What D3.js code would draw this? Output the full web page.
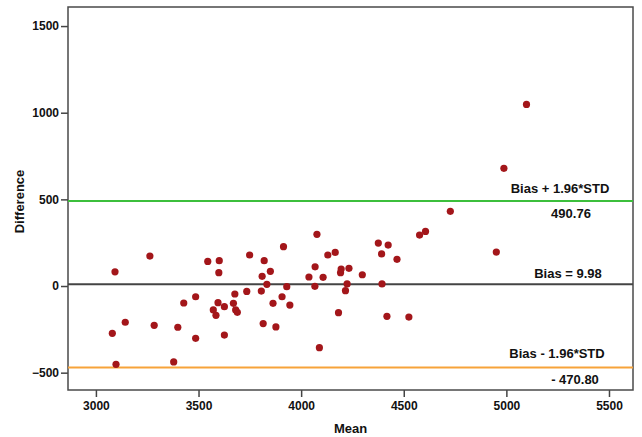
<!DOCTYPE html>
<html>
<head>
<meta charset="utf-8">
<script src="https://cdn.jsdelivr.net/npm/d3@7"></script>
<style>
  body { margin: 0; background: #fff; }
  text { font-family: "Liberation Sans", Arial, sans-serif; font-weight: bold; }
</style>
</head>
<body>
<div id="container"></div>
<script>
/* DATA */
const meanValues = [3093, 3263, 3545, 3601, 3599, 3749, 3428, 3486, 3677, 3735,
  3595, 3572, 3626, 3670, 3585, 3681, 3689, 3143, 3080, 3284,
  3399, 3486, 3626, 3098, 3379, 3820, 3914, 4077, 3850, 3810,
  3833, 3806, 3930, 3863, 3907, 3945, 3815, 3877, 4089, 4068,
  4038, 4107, 4067, 4130, 4166, 4195, 4192, 4233, 4298, 4224,
  4216, 4182, 4727, 4577, 4606, 4376, 4424, 4392, 4467, 4951,
  4394, 4418, 4525, 4988, 5098];
const diffValues = [82, 173, 142, 146, 77, 179, -98, -62, -46, -31,
  -96, -138, -119, -100, -169, -138, -152, -209, -273, -227,
  -238, -302, -283, -452, -438, 146, 227, 298, 85, 56,
  10, -29, -4, -100, -62, -110, -217, -236, -356, 111,
  52, 50, -2, 179, 194, 98, 77, 102, 65, 12,
  -27, -154, 431, 294, 315, 248, 236, 185, 154, 196,
  12, -175, -179, 679, 1048];
const xTicks = [3000, 3500, 4000, 4500, 5000, 5500];
const yTicks = [-500, 0, 500, 1000, 1500];
const bias = 9.98;
const upperLimit = 490.76;
const lowerLimit = -470.80;

/* LAYOUT */
const width = 642, height = 437,
  margin = { top: 7, right: 9, bottom: 47, left: 68 };

const svg = d3.select("#container").append("svg")
  .attr("width", width)
  .attr("height", height);

const xScale = d3.scaleLinear()
  .domain([2864, 5617])
  .range([margin.left, width - margin.right]);

const yScale = d3.scaleLinear()
  .domain([-600, 1610])
  .range([height - margin.bottom, margin.top]);

// axes
const xAxis = d3.axisBottom(xScale).tickValues(xTicks).tickSize(7).tickPadding(4).tickFormat(d3.format("d"));
const yAxis = d3.axisLeft(yScale).tickValues(yTicks).tickSize(7).tickPadding(2).tickFormat(d3.format("d"));

const xAxisGroup = svg.append("g")
  .attr("transform", `translate(0, ${height - margin.bottom})`)
  .call(xAxis);
const yAxisGroup = svg.append("g")
  .attr("transform", `translate(${margin.left}, 0)`)
  .call(yAxis);

[xAxisGroup, yAxisGroup].forEach(g => {
  g.select(".domain").remove();
  g.selectAll(".tick line").attr("stroke", "#444").attr("stroke-width", 1.5);
  g.selectAll(".tick text").attr("fill", "#111").style("font-size", "12px");
});

// frame
svg.append("rect")
  .attr("x", margin.left)
  .attr("y", margin.top)
  .attr("width", width - margin.left - margin.right)
  .attr("height", height - margin.top - margin.bottom)
  .attr("fill", "none")
  .attr("stroke", "#4a4a4a")
  .attr("stroke-width", 1.5);

// reference lines
const refLines = [
  { v: upperLimit, color: "#3cbf3c" },
  { v: bias, color: "#444" },
  { v: lowerLimit, color: "#f7a33a" }
];
svg.selectAll("line.ref")
  .data(refLines)
  .join("line")
  .attr("class", "ref")
  .attr("x1", margin.left)
  .attr("x2", width - margin.right)
  .attr("y1", d => yScale(d.v))
  .attr("y2", d => yScale(d.v))
  .attr("stroke", d => d.color)
  .attr("stroke-width", 2);

// points
svg.selectAll("circle")
  .data(meanValues.map((m, i) => ({ mean: m, diff: diffValues[i] })))
  .join("circle")
  .attr("cx", d => xScale(d.mean))
  .attr("cy", d => yScale(d.diff))
  .attr("r", 3.6)
  .attr("fill", "#a3161a");

// annotations
const notes = [
  { text: "Bias + 1.96*STD", x: 560, y: yScale(upperLimit) - 8 },
  { text: "490.76", x: 571, y: yScale(upperLimit) + 17 },
  { text: "Bias = 9.98", x: 568, y: yScale(bias) - 6 },
  { text: "Bias - 1.96*STD", x: 557, y: yScale(lowerLimit) - 10 },
  { text: "- 470.80", x: 575, y: yScale(lowerLimit) + 16 }
];
svg.selectAll("text.note")
  .data(notes)
  .join("text")
  .attr("class", "note")
  .attr("x", d => d.x)
  .attr("y", d => d.y)
  .attr("text-anchor", "middle")
  .style("font-size", "13px")
  .attr("fill", "#111")
  .text(d => d.text);

// axis titles
svg.append("text")
  .attr("x", (margin.left + width - margin.right) / 2)
  .attr("y", 433)
  .attr("text-anchor", "middle")
  .style("font-size", "13px")
  .attr("fill", "#111")
  .text("Mean");

svg.append("text")
  .attr("transform", `translate(24, ${(margin.top + height - margin.bottom) / 2 + 3}) rotate(-90)`)
  .attr("text-anchor", "middle")
  .style("font-size", "13px")
  .attr("fill", "#111")
  .text("Difference");
</script>
</body>
</html>
